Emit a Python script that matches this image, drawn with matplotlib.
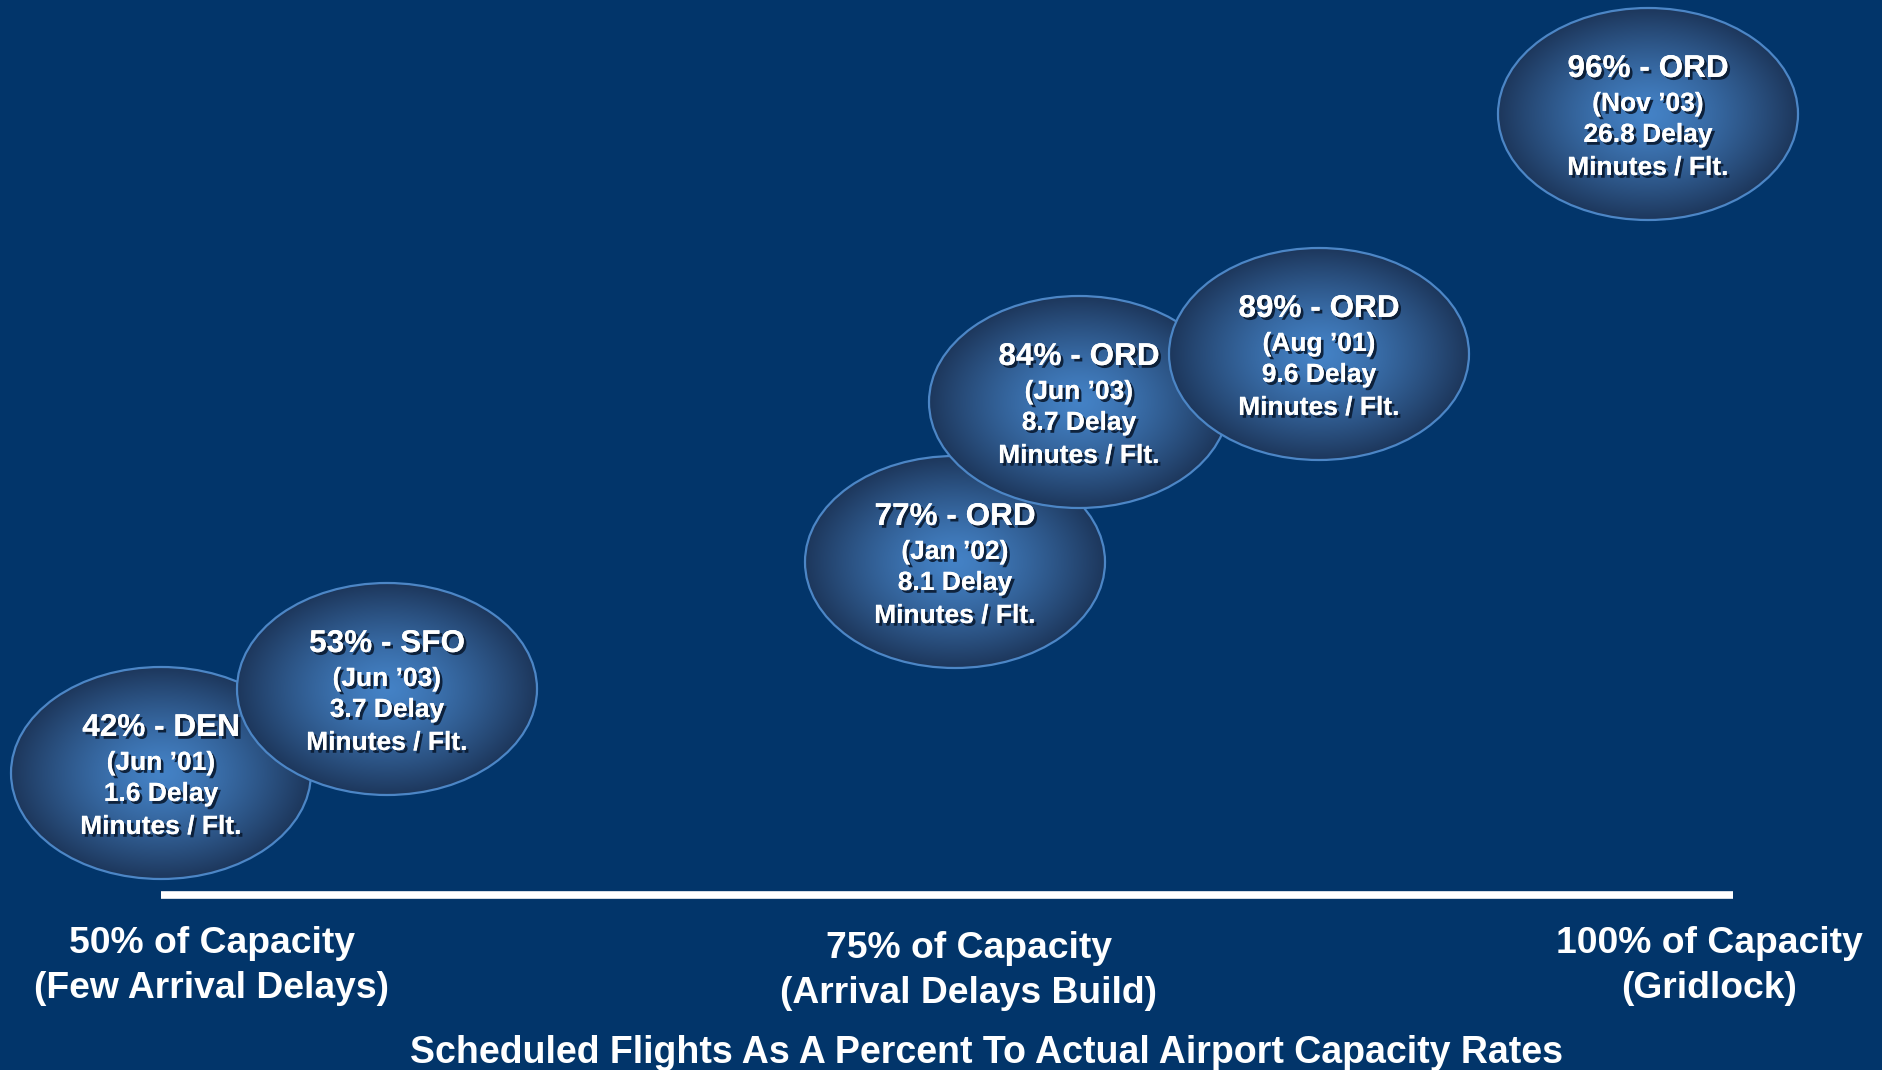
import matplotlib
matplotlib.use("Agg")
import matplotlib.pyplot as plt
import matplotlib.patheffects as pe
from matplotlib.patches import Ellipse
import numpy as np

# data
capacity_pct = [42, 53, 77, 84, 89, 96]
airports = ["DEN", "SFO", "ORD", "ORD", "ORD", "ORD"]
months = ["Jun \u201901", "Jun \u201903", "Jan \u201902", "Jun \u201903", "Aug \u201901", "Nov \u201903"]
delay_minutes = [1.6, 3.7, 8.1, 8.7, 9.6, 26.8]

scale_labels = ["50% of Capacity\n(Few Arrival Delays)",
                "75% of Capacity\n(Arrival Delays Build)",
                "100% of Capacity\n(Gridlock)"]
x_title = "Scheduled Flights As A Percent To Actual Airport Capacity Rates"

# layout (pixel space of the slide)
bubble_x = [161, 387, 955, 1079, 1319, 1648]
bubble_y = [773, 689, 562, 402, 354, 114]
bubble_w, bubble_h = 300, 212
scale_x = [212, 969, 1709]
scale_y = [966, 971, 966]

bg = "#02356a"
c_mid = np.array([0x44, 0x82, 0xc6]) / 255
c_edge = np.array([0x1d, 0x37, 0x5c]) / 255

plt.rcParams["font.family"] = ["Liberation Sans", "DejaVu Sans"]
fig = plt.figure(figsize=(18.83, 10.70), dpi=100)
fig.patch.set_facecolor(bg)
ax = fig.add_axes([0, 0, 1, 1])
ax.set_facecolor(bg)
ax.set_xlim(0, 1883)
ax.set_ylim(1070, 0)
ax.axis("off")

# radial gradient used for every bubble
yy, xx = np.mgrid[-1:1:300j, -1:1:300j]
r = np.clip(np.sqrt(xx ** 2 + yy ** 2), 0, 1) ** 1.3
grad = c_mid[None, None, :] * (1 - r[..., None]) + c_edge[None, None, :] * r[..., None]

shadow = [pe.withSimplePatchShadow(offset=(2, -2), shadow_rgbFace="#0a1a30", alpha=0.9), pe.Normal()]

for i in range(len(capacity_pct)):
    cx, cy = bubble_x[i], bubble_y[i]
    z = 2 + i * 2
    ell = Ellipse((cx, cy), bubble_w, bubble_h, facecolor="none", edgecolor="#4c86c6", lw=1.6, zorder=z + 1)
    ax.add_patch(ell)
    im = ax.imshow(grad, extent=(cx - bubble_w / 2, cx + bubble_w / 2, cy + bubble_h / 2, cy - bubble_h / 2),
                   zorder=z, interpolation="bilinear")
    im.set_clip_path(ell)

    lines = [f"{capacity_pct[i]}% - {airports[i]}", f"({months[i]})",
             f"{delay_minutes[i]} Delay", "Minutes / Flt."]
    offsets = [-37, -3, 28, 61]
    for j, (txt, dy) in enumerate(zip(lines, offsets)):
        ax.text(cx, cy + dy, txt, ha="center", va="baseline", color="white", fontweight="bold",
                fontsize=22.7 if j == 0 else 19, zorder=z + 1, path_effects=shadow)

# scale line
ax.plot([161, 1733], [895, 895], color="white", lw=5.5, solid_capstyle="butt", zorder=20)

for lab, x, y in zip(scale_labels, scale_x, scale_y):
    ax.text(x, y, lab, ha="center", va="center", color="white", fontweight="bold",
            fontsize=26.8, linespacing=1.38)

ax.text(987, 1053, x_title, ha="center", va="center", color="white", fontweight="bold", fontsize=27)

fig.savefig("out.png", dpi=100, facecolor=bg)
